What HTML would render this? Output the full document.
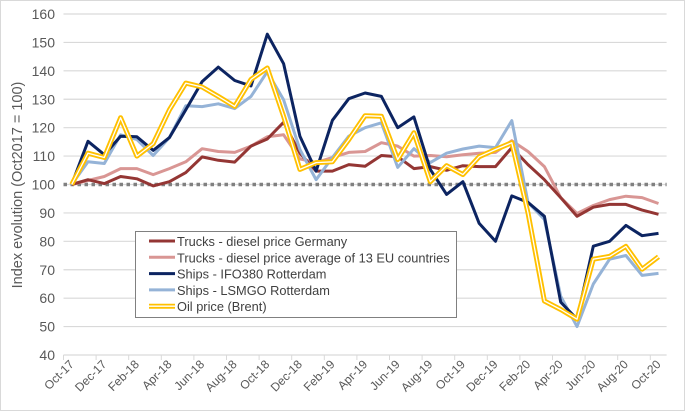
<!DOCTYPE html>
<html><head><meta charset="utf-8"><style>
body{margin:0;background:#fff}
svg{display:block;font-family:"Liberation Sans",sans-serif}
</style></head><body>
<svg id="c" width="685" height="411">
<rect x="0.5" y="0.5" width="684" height="410" fill="#fff" stroke="#d9d9d9"/>
<g id="grid"></g><g id="axes"></g><g id="series"></g><g id="legend"></g>
</svg>
<script>
const months=["Oct-17","Nov-17","Dec-17","Jan-18","Feb-18","Mar-18","Apr-18","May-18","Jun-18","Jul-18","Aug-18","Sep-18","Oct-18","Nov-18","Dec-18","Jan-19","Feb-19","Mar-19","Apr-19","May-19","Jun-19","Jul-19","Aug-19","Sep-19","Oct-19","Nov-19","Dec-19","Jan-20","Feb-20","Mar-20","Apr-20","May-20","Jun-20","Jul-20","Aug-20","Sep-20","Oct-20"];
const yTicks=[40,50,60,70,80,90,100,110,120,130,140,150,160];
const truckDE=[100,101.7,100.3,102.8,102,99.5,101,104.2,109.7,108.5,107.9,113.5,116,121.9,111,104.7,104.7,107,106.4,110.2,109.8,105.6,106.3,105,106.6,106.3,106.3,113,107,101.7,95.4,88.8,92,93,93,91,89.5];
const truckEU=[100,101.4,102.8,105.6,105.6,103.5,105.6,108,112.6,111.6,111.3,113.5,116.8,117.5,109,107.7,109.5,111.3,111.6,114.7,113.5,110,110.2,109.8,110.5,111,111.3,115.4,111.6,106.3,95.4,89.8,92.6,94.7,95.9,95.4,93.3];
const shipIFO=[100,115.2,110.5,117,116.8,112,116.5,126.3,136.2,141.3,136.6,134.7,152.9,142.5,117,104.7,122.6,130.2,132.2,131,120,123.8,105.3,96.5,101,86.3,80,96,93.7,88.8,58.6,52.6,78.3,80,85.6,82,82.8];
const shipLSMGO=[100,108,107.4,117.5,115.8,110.2,116.5,127.7,127.4,128.4,126.7,131,139.7,129.8,112.3,101.7,109.5,117,120,121.7,106,112.6,107.7,111,112.5,113.5,113,122.5,93.7,87.7,60.7,50,65,73.7,75,68,68.7];
const oil=[100,111,109.5,123.5,110,114.4,126.3,135.7,134.3,131,127.5,137,141,124,105.3,107.7,108,115.8,124.2,124,108.8,118.2,101,106.6,103.5,109.8,112.3,114.7,90,59,56,52.6,73.7,74.7,78.2,70.2,74.6];
const labels=["Trucks - diesel price Germany","Trucks - diesel price average of 13 EU countries","Ships - IFO380 Rotterdam","Ships - LSMGO Rotterdam","Oil price (Brent)"];
const NS="http://www.w3.org/2000/svg";
const L=63.5,W=16.3,Y0=355,Y1=14;
const xs=i=>L+W*(i+0.5);
const ys=v=>Y0-(v-40)*(Y0-Y1)/120;
function mk(t,a,p){const e=document.createElementNS(NS,t);for(const k in a)e.setAttribute(k,a[k]);p.appendChild(e);return e;}
const grid=document.getElementById('grid'),axes=document.getElementById('axes'),ser=document.getElementById('series'),leg=document.getElementById('legend');
const R=L+W*months.length;
yTicks.forEach(v=>{
 if(v>40){const g=mk('line',{x1:L,x2:R,y1:ys(v),y2:ys(v),stroke:'#d9d9d9','stroke-width':1.2},grid);
 
 }
 const t=mk('text',{x:55,y:ys(v)+5,'text-anchor':'end','font-size':14,fill:'#595959'},axes);t.textContent=v;
 
 
});
const ax=mk('line',{x1:L,x2:R,y1:Y0,y2:Y0,stroke:'#d9d9d9','stroke-width':1.2},axes);


const ref=mk('line',{x1:L,x2:R,y1:ys(100),y2:ys(100),stroke:'#808080','stroke-width':3.5,'stroke-dasharray':'3.5 3.5'},axes);


for(let i=0;i<=months.length;i+=2){
 const tk=mk('line',{x1:L+W*i,x2:L+W*i,y1:Y0,y2:Y0+5,stroke:'#d9d9d9'},axes);
 
 
}
months.forEach((m,i)=>{if(i%2)return;
 const x=xs(i)+3,y=Y0+10;
 const t=mk('text',{x:x,y:y,'text-anchor':'end','font-size':12,fill:'#595959',transform:`rotate(-45 ${x} ${y})`},axes);t.textContent=m;
 
 
});
const yt=mk('text',{x:22,y:185,'text-anchor':'middle','font-size':14.5,fill:'#595959',transform:'rotate(-90 22 185)'},axes);
yt.textContent='Index evolution (Oct2017 = 100)';


function path(d){return d.map((v,i)=>(i?'L':'M')+xs(i).toFixed(1)+' '+ys(v).toFixed(1)).join(' ');}
const defs=[[truckDE,'#943634','truck-germany'],[truckEU,'#d99694','truck-eu'],[shipIFO,'#0c2461','ship-ifo380'],[shipLSMGO,'#95b3d7','ship-lsmgo']];
[defs[1],defs[0],defs[3],defs[2]].forEach(([d,c,n])=>{
 const p=mk('path',{d:path(d),fill:'none',stroke:c,'stroke-width':3,'stroke-linejoin':'round'},ser);
 
 
});
const o1=mk('path',{d:path(oil),fill:'none',stroke:'#ffc000','stroke-width':5,'stroke-linejoin':'round'},ser);


const o2=mk('path',{d:path(oil),fill:'none',stroke:'#fff','stroke-width':1.3,'stroke-linejoin':'round'},ser);


const box=mk('rect',{x:135.5,y:231.5,width:321,height:86,fill:'#fff',stroke:'#808080'},leg);


const lc=['#943634','#d99694','#0c2461','#95b3d7','#ffc000'];
labels.forEach((s,i)=>{
 const y=241+i*16.3;
 const g=mk('g',{},leg);
 
 
 if(i<4)mk('line',{x1:149,x2:175,y1:y,y2:y,stroke:lc[i],'stroke-width':3},g);
 else{mk('line',{x1:149,x2:175,y1:y,y2:y,stroke:lc[i],'stroke-width':5},g);mk('line',{x1:149,x2:175,y1:y,y2:y,stroke:'#fff','stroke-width':1.3},g);}
 const t=mk('text',{x:177,y:y+5,'font-size':12.8,fill:'#404040'},g);t.textContent=s;
});
</script>
</body></html>
